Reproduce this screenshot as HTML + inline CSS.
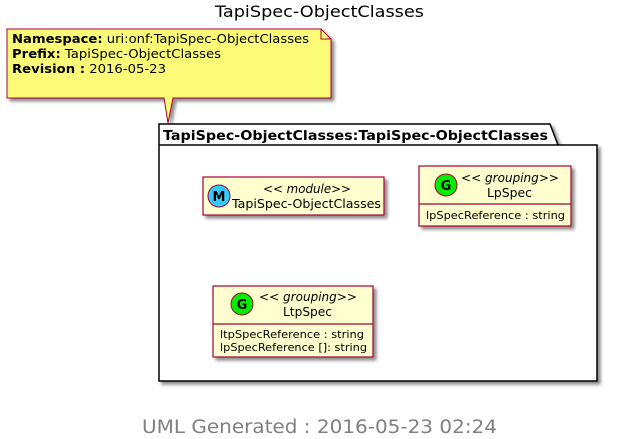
<!DOCTYPE html>
<html><head><meta charset="utf-8"><style>body{margin:0;background:#fff}svg{display:block}text{font-family:"DejaVu Sans","Liberation Sans",sans-serif}</style></head>
<body>
<svg width="638" height="439" viewBox="0 0 638 439" xmlns="http://www.w3.org/2000/svg">
<defs><filter id="sh" x="-10%" y="-10%" width="130%" height="130%"><feGaussianBlur in="SourceAlpha" stdDeviation="1.5"/><feOffset dx="3" dy="3"/><feComponentTransfer><feFuncA type="linear" slope="0.45"/></feComponentTransfer><feMerge><feMergeNode/><feMergeNode in="SourceGraphic"/></feMerge></filter></defs>
<text x="215" y="17" font-size="16" textLength="209" lengthAdjust="spacingAndGlyphs">TapiSpec-ObjectClasses</text>
<!-- note -->
<path d="M7,29 L321,29 L331,39 L331,98 L173,98 L168,123 L164,98 L7,98 Z" fill="#FBFB77" stroke="#A80036" stroke-width="1" filter="url(#sh)"/>
<path d="M321,29 L321,39 L331,39" fill="none" stroke="#A80036"/>
<text font-size="12.5" x="12" y="43" textLength="297" lengthAdjust="spacingAndGlyphs"><tspan font-weight="bold">Namespace:</tspan>  uri:onf:TapiSpec-ObjectClasses</text>
<text font-size="12.5" x="12" y="58" textLength="209" lengthAdjust="spacingAndGlyphs"><tspan font-weight="bold">Prefix:</tspan>  TapiSpec-ObjectClasses</text>
<text font-size="12.5" x="12" y="73" textLength="154" lengthAdjust="spacingAndGlyphs"><tspan font-weight="bold">Revision :</tspan>  2016-05-23</text>
<!-- package -->
<path d="M159,124 L550,124 L558,145 L597,145 L597,381 L159,381 Z" fill="#fff" stroke="#000" stroke-width="1.5" filter="url(#sh)"/>
<line x1="159" y1="145" x2="558" y2="145" stroke="#000" stroke-width="1.5"/>
<text x="163" y="140" font-size="13.5" font-weight="bold" textLength="385" lengthAdjust="spacingAndGlyphs">TapiSpec-ObjectClasses:TapiSpec-ObjectClasses</text>
<!-- module -->
<rect x="203" y="177" width="181" height="38" fill="#FEFECE" stroke="#A80036" stroke-width="1.2" filter="url(#sh)"/>
<circle cx="219" cy="196" r="11" fill="#33CCFF" stroke="#A80036"/>
<text x="219" y="201" text-anchor="middle" font-size="13" font-weight="bold" font-family="Liberation Mono">M</text>
<text x="263" y="193" font-size="12.5" font-style="italic" textLength="88" lengthAdjust="spacingAndGlyphs">&lt;&lt; module&gt;&gt;</text>
<text x="232" y="208" font-size="12.5" textLength="149" lengthAdjust="spacingAndGlyphs">TapiSpec-ObjectClasses</text>
<!-- LpSpec -->
<rect x="419" y="166" width="152" height="60" fill="#FEFECE" stroke="#A80036" stroke-width="1.2" filter="url(#sh)"/>
<line x1="419" y1="204" x2="571" y2="204" stroke="#A80036" stroke-width="1.2"/>
<circle cx="446" cy="185" r="11" fill="#00EE00" stroke="#A80036"/>
<text x="446" y="190" text-anchor="middle" font-size="13" font-weight="bold" font-family="Liberation Mono">G</text>
<text x="461" y="182" font-size="12.5" font-style="italic" textLength="98" lengthAdjust="spacingAndGlyphs">&lt;&lt; grouping&gt;&gt;</text>
<text x="487" y="197" font-size="12.5" textLength="45" lengthAdjust="spacingAndGlyphs">LpSpec</text>
<text x="426" y="219" font-size="11" textLength="139" lengthAdjust="spacingAndGlyphs">lpSpecReference : string</text>
<!-- LtpSpec -->
<rect x="213" y="286" width="160" height="71" fill="#FEFECE" stroke="#A80036" stroke-width="1.2" filter="url(#sh)"/>
<line x1="213" y1="324" x2="373" y2="324" stroke="#A80036" stroke-width="1.2"/>
<circle cx="242" cy="304" r="11" fill="#00EE00" stroke="#A80036"/>
<text x="242" y="309" text-anchor="middle" font-size="13" font-weight="bold" font-family="Liberation Mono">G</text>
<text x="259" y="301" font-size="12.5" font-style="italic" textLength="98" lengthAdjust="spacingAndGlyphs">&lt;&lt; grouping&gt;&gt;</text>
<text x="283" y="316" font-size="12.5" textLength="49" lengthAdjust="spacingAndGlyphs">LtpSpec</text>
<text x="220" y="338" font-size="11" textLength="144" lengthAdjust="spacingAndGlyphs">ltpSpecReference : string</text>
<text x="220" y="351" font-size="11" textLength="147" lengthAdjust="spacingAndGlyphs">lpSpecReference []: string</text>
<text x="142" y="433" font-size="18.5" fill="#808080" textLength="355" lengthAdjust="spacingAndGlyphs">UML Generated : 2016-05-23 02:24</text>
</svg>
</body></html>
